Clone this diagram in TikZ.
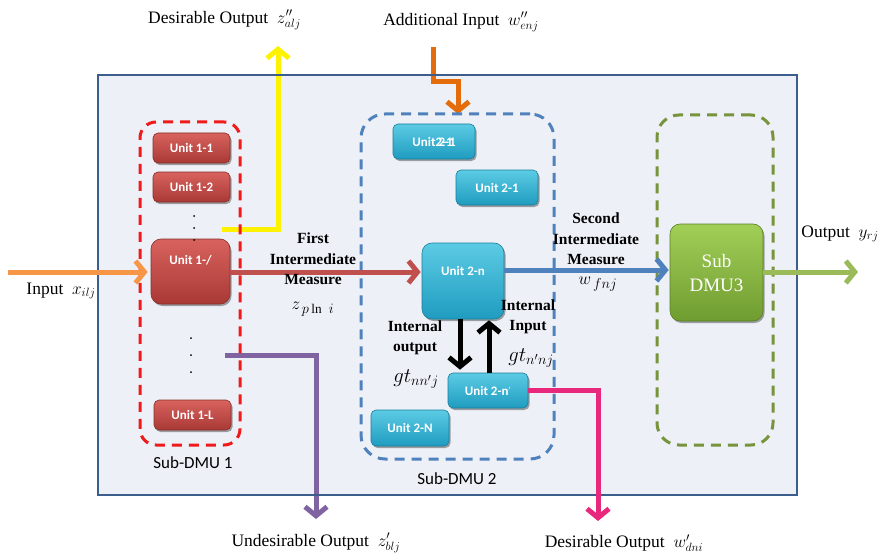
\documentclass[tikz,border=0pt]{standalone}
\usepackage{fontspec}
\setmainfont{Liberation Serif}
\newfontfamily\unitfont{Carlito}
\usetikzlibrary{arrows.meta,shadows,calc}
\definecolor{boxfill}{HTML}{EDF1F7}
\definecolor{boxline}{HTML}{3C5E8C}
\definecolor{uredT}{HTML}{D8625E}
\definecolor{uredB}{HTML}{A93935}
\definecolor{ublueT}{HTML}{5CCBE4}
\definecolor{ublueB}{HTML}{1F9CC0}
\definecolor{ugreenT}{HTML}{A2CF57}
\definecolor{ugreenB}{HTML}{6F9C30}
\definecolor{dashred}{HTML}{F01A1A}
\definecolor{dashblue}{HTML}{4F81BD}
\definecolor{dashgreen}{HTML}{77933C}
\definecolor{aorange}{HTML}{F79646}
\definecolor{abrown}{HTML}{C0504D}
\definecolor{ayellow}{HTML}{FFF200}
\definecolor{adorange}{HTML}{E46C0A}
\definecolor{ablue}{HTML}{4F81BD}
\definecolor{agreen}{HTML}{9BBB59}
\definecolor{apurple}{HTML}{8064A2}
\definecolor{apink}{HTML}{E8287C}
\tikzset{
  unitbase/.style={rounded corners=5pt, inner sep=0pt, text=white,
    font=\unitfont\bfseries\fontsize{13}{14}\selectfont,
    drop shadow={shadow xshift=1.5pt, shadow yshift=-2pt, opacity=0.35, fill=black}},
  unitred/.style={unitbase, draw=uredB!80!black, line width=0.6pt, top color=uredT, bottom color=uredB},
  unitblue/.style={unitbase, draw=ublueB!80!black, line width=0.6pt, top color=ublueT, bottom color=ublueB},
  unitgreen/.style={unitbase, rounded corners=10pt, draw=ugreenB!80!black, line width=0.6pt, top color=ugreenT, bottom color=ugreenB,
    font=\fontsize{19}{24}\selectfont, align=center},
  subbox/.style={line width=3pt, dash pattern=on 10pt off 7pt, inner sep=0pt},
  fat/.style={line width=5pt, -{Straight Barb[length=9pt,width=22pt]}},
  lbl/.style={font=\fontsize{17.5}{20}\selectfont, inner sep=0pt},
  blbl/.style={font=\bfseries\fontsize{15.5}{20.5}\selectfont, align=center, inner sep=0pt},
  mlbl/.style={font=\fontsize{19}{20}\selectfont, inner sep=0pt},
  sublbl/.style={font=\unitfont\fontsize{17}{18}\selectfont, inner sep=0pt},
}
\begin{document}
\begin{tikzpicture}[x=1pt,y=-1pt]
\useasboundingbox (0,0) rectangle (891,559);
% main box fill
\node[fill=boxfill, minimum width=699pt, minimum height=420pt, inner sep=0pt] (main) at (447.5,285) {};

% external coordinates
\coordinate (inS) at (8,272);
\coordinate (outE) at (858,272);
\coordinate (yS) at (222,229);
\coordinate (yE) at (278,46);
\coordinate (aS) at (433,47);
\coordinate (aE) at (458,114);
\coordinate (pS) at (225,355);
\coordinate (pE) at (316,519);
\coordinate (pkE) at (598,521);
\coordinate (xd) at (460,0);
\coordinate (xu) at (489,0);

% arrows
\draw[fat, draw=ayellow] (yS) -| (yE);
\draw[fat, draw=adorange] (aS) -- ++(0,35) -| (aE);
\draw[fat, draw=apurple] (pS) -| (pE);

% main box border
\draw[boxline, line width=2pt] (main.north west) rectangle (main.south east);

% dashed sub boxes
\node[subbox, draw=dashred, rounded corners=16pt, minimum width=100pt, minimum height=323pt] (sub1) at (190,283.5) {};
\node[subbox, draw=dashblue, rounded corners=24pt, minimum width=193pt, minimum height=345pt] (sub2) at (457.5,286.5) {};
\node[subbox, draw=dashgreen, rounded corners=22pt, minimum width=116pt, minimum height=330pt] (sub3) at (715,280) {};

% units sub-DMU 1
\node[unitred, minimum width=77pt, minimum height=30pt] (u11) at (191.5,148) {Unit 1-1};
\node[unitred, minimum width=77pt, minimum height=30pt] (u12) at (191.5,187) {Unit 1-2};
\node[unitred, minimum width=79pt, minimum height=65pt, text height=25pt, text depth=40pt, rounded corners=10pt] (u1l) at (190.5,271.5) {Unit 1-/};
\node[unitred, minimum width=77pt, minimum height=30pt] (u1L) at (192.5,415) {Unit 1-L};
\foreach \yy in {216,228,240} \fill (194,\yy) circle (1pt);
\foreach \yy in {338,355,372} \fill (191,\yy) circle (1pt);

% units sub-DMU 2
\node[unitblue, minimum width=82pt, minimum height=35pt] (u21a) at (434,141.5) {Unit\rlap{2-1}\kern3pt 2-1};
\node[unitblue, minimum width=82pt, minimum height=35pt] (u21) at (497,187.5) {Unit 2-1};
\node[unitblue, minimum width=82pt, minimum height=76pt, text height=32pt, text depth=44pt, rounded corners=10pt] (u2n) at (463,281) {Unit 2-n};
\node[unitblue, minimum width=80pt, minimum height=35pt] (u2np) at (488,390.5) {Unit 2-n$^{\scriptscriptstyle\prime}$};
\node[unitblue, minimum width=78pt, minimum height=36pt] (u2N) at (410,428) {Unit 2-N};

% sub DMU3
\node[unitgreen, minimum width=93pt, minimum height=97pt] (dmu3) at (716.5,272.5) {Sub\\DMU3};

% arrows between units
\draw[fat, draw=aorange, shorten >=3pt] (inS) -- (inS -| u1l.west);
\draw[fat, draw=abrown, shorten >=1pt] (u1l.east |- inS) -- (u2n.west |- inS);
\draw[fat, draw=ablue, shorten >=1pt] (u2n.east |- 0,270) -- (dmu3.west |- 0,270);
\draw[fat, draw=agreen] (dmu3.east |- outE) -- (outE);
\draw[fat, draw=apink] (u2np.east) -| (pkE);
\draw[fat, draw=black, shorten >=3pt] (u2n.south -| xd) -- (u2np.north -| xd);
\draw[fat, draw=black, shorten >=1pt] (u2np.north -| xu) -- (u2n.south -| xu);

% labels
\node[lbl] (tDO1) at (224.5,20) {Desirable Output\ \ $z''_{alj}$};
\node[lbl] (tAI) at (461,22) {Additional Input\ \ $w''_{enj}$};
\node[lbl] (tIn) at (61,291) {Input\ \ $x_{ilj}$};
\node[lbl] (tOut) at (840,234) {Output\ \ $y_{rj}$};
\node[lbl] (tUO) at (316,543) {Undesirable Output\ \ $z'_{blj}$};
\node[lbl] (tDO2) at (624,543) {Desirable Output\ \ $w'_{dni}$};
\node[blbl] (tFIM) at (313,259) {First\\Intermediate\\Measure};
\node[mlbl] (tz) at (313,309) {$z_{\,p\ln\ i}$};
\node[blbl] (tSIM) at (596,239) {Second\\Intermediate\\Measure};
\node[mlbl] (tw) at (598,284) {$w_{\,fnj}$};
\node[blbl] (tIO) at (415,338) {Internal\\output};
\node[blbl] (tII) at (528,317) {Internal\\Input};
\node[mlbl, font=\fontsize{21}{22}\selectfont] (tg1) at (416,379) {$gt_{nn'j}$};
\node[mlbl, font=\fontsize{21}{22}\selectfont] (tg2) at (531,358) {$gt_{n'nj}$};
\node[sublbl] (ts1) at (193,463) {Sub-DMU 1};
\node[sublbl] (ts2) at (457,479) {Sub-DMU 2};
\end{tikzpicture}
\end{document}
